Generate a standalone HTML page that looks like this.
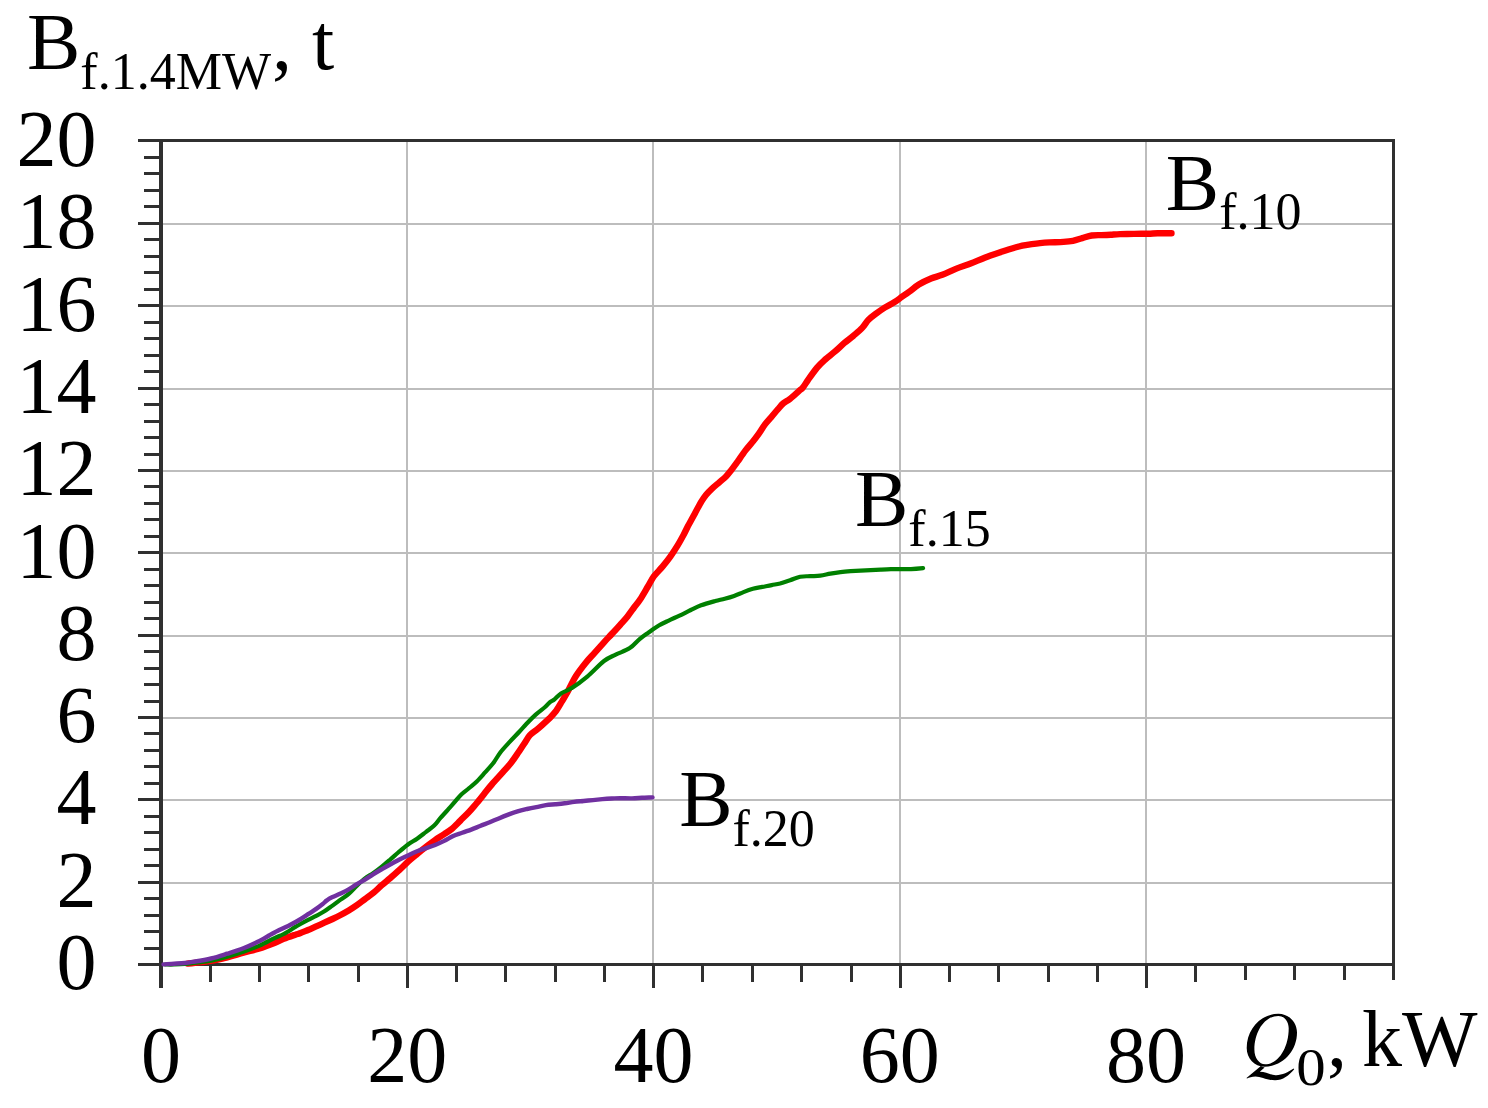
<!DOCTYPE html>
<html><head><meta charset="utf-8"><style>
html,body{margin:0;padding:0;background:#fff;}
body{width:1488px;height:1108px;overflow:hidden;}
svg{display:block;}
text{font-family:"Liberation Serif",serif;font-size:80px;fill:#000;}
</style></head><body>
<svg width="1488" height="1108" viewBox="0 0 1488 1108">
<rect width="1488" height="1108" fill="#fff"/>
<line x1="161" y1="883" x2="1393" y2="883" stroke="#bdbdbd" stroke-width="2"/>
<line x1="161" y1="800" x2="1393" y2="800" stroke="#bdbdbd" stroke-width="2"/>
<line x1="161" y1="718" x2="1393" y2="718" stroke="#bdbdbd" stroke-width="2"/>
<line x1="161" y1="636" x2="1393" y2="636" stroke="#bdbdbd" stroke-width="2"/>
<line x1="161" y1="553" x2="1393" y2="553" stroke="#bdbdbd" stroke-width="2"/>
<line x1="161" y1="471" x2="1393" y2="471" stroke="#bdbdbd" stroke-width="2"/>
<line x1="161" y1="389" x2="1393" y2="389" stroke="#bdbdbd" stroke-width="2"/>
<line x1="161" y1="306" x2="1393" y2="306" stroke="#bdbdbd" stroke-width="2"/>
<line x1="161" y1="224" x2="1393" y2="224" stroke="#bdbdbd" stroke-width="2"/>
<line x1="407" y1="141" x2="407" y2="964" stroke="#bdbdbd" stroke-width="2"/>
<line x1="653" y1="141" x2="653" y2="964" stroke="#bdbdbd" stroke-width="2"/>
<line x1="900" y1="141" x2="900" y2="964" stroke="#bdbdbd" stroke-width="2"/>
<line x1="1146" y1="141" x2="1146" y2="964" stroke="#bdbdbd" stroke-width="2"/>
<line x1="138" y1="140.5" x2="1394.5" y2="140.5" stroke="#303030" stroke-width="3"/>
<line x1="1393.5" y1="139" x2="1393.5" y2="980" stroke="#303030" stroke-width="3"/>
<line x1="138" y1="964.5" x2="1395" y2="964.5" stroke="#303030" stroke-width="3"/>
<line x1="161" y1="139" x2="161" y2="988" stroke="#303030" stroke-width="4"/>
<line x1="138" y1="964.5" x2="160" y2="964.5" stroke="#303030" stroke-width="3"/>
<line x1="144" y1="948.5" x2="160" y2="948.5" stroke="#303030" stroke-width="3"/>
<line x1="144" y1="931.5" x2="160" y2="931.5" stroke="#303030" stroke-width="3"/>
<line x1="144" y1="915.5" x2="160" y2="915.5" stroke="#303030" stroke-width="3"/>
<line x1="144" y1="898.5" x2="160" y2="898.5" stroke="#303030" stroke-width="3"/>
<line x1="138" y1="882.5" x2="160" y2="882.5" stroke="#303030" stroke-width="3"/>
<line x1="144" y1="865.5" x2="160" y2="865.5" stroke="#303030" stroke-width="3"/>
<line x1="144" y1="849.5" x2="160" y2="849.5" stroke="#303030" stroke-width="3"/>
<line x1="144" y1="832.5" x2="160" y2="832.5" stroke="#303030" stroke-width="3"/>
<line x1="144" y1="816.5" x2="160" y2="816.5" stroke="#303030" stroke-width="3"/>
<line x1="138" y1="799.5" x2="160" y2="799.5" stroke="#303030" stroke-width="3"/>
<line x1="144" y1="783.5" x2="160" y2="783.5" stroke="#303030" stroke-width="3"/>
<line x1="144" y1="766.5" x2="160" y2="766.5" stroke="#303030" stroke-width="3"/>
<line x1="144" y1="750.5" x2="160" y2="750.5" stroke="#303030" stroke-width="3"/>
<line x1="144" y1="733.5" x2="160" y2="733.5" stroke="#303030" stroke-width="3"/>
<line x1="138" y1="717.5" x2="160" y2="717.5" stroke="#303030" stroke-width="3"/>
<line x1="144" y1="701.5" x2="160" y2="701.5" stroke="#303030" stroke-width="3"/>
<line x1="144" y1="684.5" x2="160" y2="684.5" stroke="#303030" stroke-width="3"/>
<line x1="144" y1="668.5" x2="160" y2="668.5" stroke="#303030" stroke-width="3"/>
<line x1="144" y1="651.5" x2="160" y2="651.5" stroke="#303030" stroke-width="3"/>
<line x1="138" y1="635.5" x2="160" y2="635.5" stroke="#303030" stroke-width="3"/>
<line x1="144" y1="618.5" x2="160" y2="618.5" stroke="#303030" stroke-width="3"/>
<line x1="144" y1="602.5" x2="160" y2="602.5" stroke="#303030" stroke-width="3"/>
<line x1="144" y1="585.5" x2="160" y2="585.5" stroke="#303030" stroke-width="3"/>
<line x1="144" y1="569.5" x2="160" y2="569.5" stroke="#303030" stroke-width="3"/>
<line x1="138" y1="552.5" x2="160" y2="552.5" stroke="#303030" stroke-width="3"/>
<line x1="144" y1="536.5" x2="160" y2="536.5" stroke="#303030" stroke-width="3"/>
<line x1="144" y1="519.5" x2="160" y2="519.5" stroke="#303030" stroke-width="3"/>
<line x1="144" y1="503.5" x2="160" y2="503.5" stroke="#303030" stroke-width="3"/>
<line x1="144" y1="486.5" x2="160" y2="486.5" stroke="#303030" stroke-width="3"/>
<line x1="138" y1="470.5" x2="160" y2="470.5" stroke="#303030" stroke-width="3"/>
<line x1="144" y1="454.5" x2="160" y2="454.5" stroke="#303030" stroke-width="3"/>
<line x1="144" y1="437.5" x2="160" y2="437.5" stroke="#303030" stroke-width="3"/>
<line x1="144" y1="421.5" x2="160" y2="421.5" stroke="#303030" stroke-width="3"/>
<line x1="144" y1="404.5" x2="160" y2="404.5" stroke="#303030" stroke-width="3"/>
<line x1="138" y1="388.5" x2="160" y2="388.5" stroke="#303030" stroke-width="3"/>
<line x1="144" y1="371.5" x2="160" y2="371.5" stroke="#303030" stroke-width="3"/>
<line x1="144" y1="355.5" x2="160" y2="355.5" stroke="#303030" stroke-width="3"/>
<line x1="144" y1="338.5" x2="160" y2="338.5" stroke="#303030" stroke-width="3"/>
<line x1="144" y1="322.5" x2="160" y2="322.5" stroke="#303030" stroke-width="3"/>
<line x1="138" y1="305.5" x2="160" y2="305.5" stroke="#303030" stroke-width="3"/>
<line x1="144" y1="289.5" x2="160" y2="289.5" stroke="#303030" stroke-width="3"/>
<line x1="144" y1="272.5" x2="160" y2="272.5" stroke="#303030" stroke-width="3"/>
<line x1="144" y1="256.5" x2="160" y2="256.5" stroke="#303030" stroke-width="3"/>
<line x1="144" y1="239.5" x2="160" y2="239.5" stroke="#303030" stroke-width="3"/>
<line x1="138" y1="223.5" x2="160" y2="223.5" stroke="#303030" stroke-width="3"/>
<line x1="144" y1="206.5" x2="160" y2="206.5" stroke="#303030" stroke-width="3"/>
<line x1="144" y1="190.5" x2="160" y2="190.5" stroke="#303030" stroke-width="3"/>
<line x1="144" y1="173.5" x2="160" y2="173.5" stroke="#303030" stroke-width="3"/>
<line x1="144" y1="157.5" x2="160" y2="157.5" stroke="#303030" stroke-width="3"/>
<line x1="138" y1="140.5" x2="160" y2="140.5" stroke="#303030" stroke-width="3"/>
<line x1="210.5" y1="964" x2="210.5" y2="982" stroke="#303030" stroke-width="3"/>
<line x1="259.5" y1="964" x2="259.5" y2="982" stroke="#303030" stroke-width="3"/>
<line x1="308.5" y1="964" x2="308.5" y2="982" stroke="#303030" stroke-width="3"/>
<line x1="358.5" y1="964" x2="358.5" y2="982" stroke="#303030" stroke-width="3"/>
<line x1="407.5" y1="964" x2="407.5" y2="988" stroke="#303030" stroke-width="3"/>
<line x1="456.5" y1="964" x2="456.5" y2="982" stroke="#303030" stroke-width="3"/>
<line x1="505.5" y1="964" x2="505.5" y2="982" stroke="#303030" stroke-width="3"/>
<line x1="555.5" y1="964" x2="555.5" y2="982" stroke="#303030" stroke-width="3"/>
<line x1="604.5" y1="964" x2="604.5" y2="982" stroke="#303030" stroke-width="3"/>
<line x1="653.5" y1="964" x2="653.5" y2="988" stroke="#303030" stroke-width="3"/>
<line x1="702.5" y1="964" x2="702.5" y2="982" stroke="#303030" stroke-width="3"/>
<line x1="752.5" y1="964" x2="752.5" y2="982" stroke="#303030" stroke-width="3"/>
<line x1="801.5" y1="964" x2="801.5" y2="982" stroke="#303030" stroke-width="3"/>
<line x1="851.5" y1="964" x2="851.5" y2="982" stroke="#303030" stroke-width="3"/>
<line x1="900.5" y1="964" x2="900.5" y2="988" stroke="#303030" stroke-width="3"/>
<line x1="949.5" y1="964" x2="949.5" y2="982" stroke="#303030" stroke-width="3"/>
<line x1="998.5" y1="964" x2="998.5" y2="982" stroke="#303030" stroke-width="3"/>
<line x1="1048.5" y1="964" x2="1048.5" y2="982" stroke="#303030" stroke-width="3"/>
<line x1="1097.5" y1="964" x2="1097.5" y2="982" stroke="#303030" stroke-width="3"/>
<line x1="1146.5" y1="964" x2="1146.5" y2="988" stroke="#303030" stroke-width="3"/>
<line x1="1195.5" y1="964" x2="1195.5" y2="982" stroke="#303030" stroke-width="3"/>
<line x1="1245.5" y1="964" x2="1245.5" y2="980" stroke="#303030" stroke-width="3"/>
<line x1="1294.5" y1="964" x2="1294.5" y2="980" stroke="#303030" stroke-width="3"/>
<line x1="1344.5" y1="964" x2="1344.5" y2="980" stroke="#303030" stroke-width="3"/>
<path d="M187.5 963.6 C188.8 963.5 191.1 963.4 195.0 962.9 C198.9 962.4 205.7 961.7 211.1 960.8 C216.5 959.9 221.9 958.6 227.3 957.3 C232.7 955.9 238.0 954.2 243.4 952.7 C248.8 951.2 254.2 950.0 259.5 948.4 C264.8 946.8 271.0 944.4 275.0 942.8 C279.0 941.2 280.3 940.1 283.7 938.8 C287.1 937.4 292.7 935.6 295.4 934.7 C298.1 933.8 297.9 934.1 300.0 933.3 C302.1 932.5 305.4 931.1 308.1 930.0 C310.8 928.9 313.5 927.6 316.2 926.4 C318.9 925.2 321.7 923.9 324.4 922.7 C327.1 921.5 329.8 920.3 332.5 919.0 C335.2 917.7 337.9 916.4 340.6 915.0 C343.3 913.6 346.0 912.1 348.7 910.5 C351.4 908.9 354.2 907.1 356.9 905.2 C359.6 903.3 362.3 901.1 365.0 899.1 C367.7 897.1 370.4 895.3 373.1 893.1 C375.8 890.9 378.5 888.1 381.2 885.7 C383.9 883.3 386.3 881.4 389.4 878.8 C392.4 876.2 396.4 872.8 399.5 869.9 C402.6 867.0 405.1 864.4 408.0 861.7 C410.9 859.1 414.1 856.5 417.1 854.0 C420.1 851.5 423.1 849.1 426.1 846.8 C429.1 844.5 432.1 842.1 435.1 840.0 C438.1 837.9 441.5 836.0 444.2 834.2 C446.9 832.4 448.7 831.5 451.4 829.2 C454.1 826.9 457.5 823.4 460.4 820.6 C463.2 817.8 465.8 815.3 468.5 812.5 C471.2 809.7 473.7 806.6 476.4 803.5 C479.0 800.5 481.6 797.2 484.1 794.0 C486.7 790.8 488.6 788.1 491.8 784.5 C494.9 780.9 499.7 775.8 502.9 772.2 C506.1 768.6 508.6 766.0 511.1 762.8 C513.6 759.6 516.0 755.9 518.1 752.8 C520.2 749.7 522.0 746.9 524.0 744.0 C526.0 741.1 527.5 737.8 529.9 735.2 C532.2 732.7 534.9 731.5 538.1 728.7 C541.3 725.9 546.4 721.2 549.4 718.4 C552.3 715.5 553.7 714.0 555.8 711.3 C557.8 708.6 559.6 705.4 561.6 702.0 C563.7 698.5 565.7 695.0 568.1 690.8 C570.5 686.5 572.9 680.9 575.8 676.3 C578.6 671.7 582.1 667.3 585.2 663.4 C588.3 659.5 591.5 656.3 594.6 652.8 C597.7 649.3 601.1 645.5 604.0 642.3 C606.9 639.1 609.5 636.5 612.2 633.5 C614.9 630.5 617.9 627.5 620.4 624.6 C622.9 621.8 625.3 619.2 627.5 616.4 C629.7 613.6 631.6 610.9 633.7 608.0 C635.8 605.2 637.7 603.2 640.1 599.5 C642.5 595.9 645.9 589.8 648.2 586.0 C650.5 582.1 651.6 579.4 654.0 576.2 C656.4 573.0 659.5 570.2 662.3 566.9 C665.0 563.6 668.0 559.8 670.5 556.3 C673.0 552.8 675.4 549.2 677.5 545.7 C679.6 542.2 681.6 538.5 683.4 535.2 C685.2 531.9 686.4 529.1 688.1 525.8 C689.9 522.5 691.7 519.3 693.9 515.2 C696.1 511.1 699.5 504.6 701.5 501.3 C703.5 498.0 704.0 497.4 705.7 495.3 C707.4 493.2 709.4 491.0 711.8 488.8 C714.1 486.6 717.3 484.1 719.6 482.1 C722.0 480.0 724.0 478.4 726.0 476.4 C728.0 474.4 729.4 472.4 731.4 469.9 C733.4 467.4 735.5 464.4 737.9 461.2 C740.2 457.9 743.0 453.7 745.5 450.4 C748.0 447.1 750.9 443.9 753.1 441.2 C755.3 438.5 756.5 436.9 758.5 434.1 C760.5 431.3 762.8 427.3 765.0 424.4 C767.2 421.5 769.3 419.3 771.5 416.8 C773.7 414.3 776.0 411.4 778.0 409.2 C780.0 406.9 781.4 405.0 783.4 403.3 C785.4 401.6 787.3 401.0 789.9 398.9 C792.5 396.8 796.9 392.8 799.1 390.9 C801.3 389.0 801.4 389.5 802.9 387.6 C804.4 385.7 805.8 383.1 808.1 379.8 C810.5 376.4 814.3 371.0 817.1 367.6 C819.9 364.2 822.2 362.2 825.2 359.5 C828.2 356.8 832.0 354.1 835.1 351.4 C838.2 348.7 841.1 345.8 844.1 343.2 C847.1 340.6 850.2 338.6 853.2 336.0 C856.2 333.4 859.7 330.6 862.2 327.9 C864.8 325.2 866.2 322.1 868.5 319.8 C870.8 317.5 873.0 315.9 875.7 313.9 C878.4 311.9 881.7 309.5 884.7 307.6 C887.7 305.7 891.0 304.3 893.8 302.6 C896.6 300.9 898.8 299.1 901.4 297.2 C904.0 295.4 906.4 293.9 909.2 291.8 C912.1 289.6 915.2 286.8 918.8 284.6 C922.4 282.4 927.1 280.1 931.0 278.5 C934.9 276.9 938.1 276.4 942.3 274.8 C946.5 273.2 951.7 270.5 956.4 268.6 C961.1 266.7 965.9 265.3 970.6 263.5 C975.3 261.7 980.0 259.5 984.7 257.7 C989.4 255.9 994.1 254.3 998.8 252.7 C1003.5 251.1 1009.0 249.4 1012.9 248.2 C1016.8 247.0 1019.2 246.3 1022.3 245.6 C1025.4 244.9 1028.8 244.5 1031.7 244.1 C1034.7 243.7 1037.0 243.4 1040.0 243.1 C1043.0 242.8 1045.5 242.6 1049.4 242.4 C1053.3 242.2 1059.6 242.2 1063.5 241.9 C1067.4 241.6 1069.8 241.4 1072.9 240.8 C1076.0 240.2 1079.2 239.0 1082.3 238.1 C1085.4 237.2 1088.6 236.0 1091.7 235.5 C1094.8 235.0 1097.9 235.2 1101.1 235.1 C1104.2 235.0 1107.4 234.9 1110.6 234.7 C1113.8 234.5 1116.1 234.2 1120.0 234.1 C1123.9 234.0 1129.4 234.0 1134.1 233.9 C1138.8 233.8 1144.3 233.8 1148.2 233.7 C1152.1 233.6 1153.7 233.3 1157.6 233.2 C1161.5 233.1 1169.2 233.3 1171.5 233.3" fill="none" stroke="#ff0000" stroke-width="6.4" stroke-linejoin="round" stroke-linecap="round"/>
<path d="M165.0 964.5 C166.5 964.5 170.7 964.6 174.0 964.5 C177.3 964.4 181.0 964.3 185.0 964.0 C189.0 963.7 193.7 963.0 198.0 962.5 C202.3 962.0 206.2 961.7 211.1 960.7 C216.0 959.7 221.9 958.2 227.3 956.7 C232.7 955.2 238.0 953.6 243.4 951.8 C248.8 949.9 254.2 947.9 259.5 945.6 C264.8 943.3 271.0 939.7 275.0 937.8 C279.0 935.9 280.3 935.8 283.7 934.0 C287.1 932.2 292.7 928.5 295.4 926.9 C298.1 925.3 297.9 925.5 300.0 924.3 C302.1 923.1 305.4 921.3 308.1 919.9 C310.8 918.5 313.5 917.2 316.2 915.8 C318.9 914.4 321.7 913.0 324.4 911.3 C327.1 909.6 329.8 907.5 332.5 905.6 C335.2 903.7 337.9 901.6 340.6 899.6 C343.3 897.6 346.0 896.2 348.7 893.9 C351.4 891.6 354.2 888.3 356.9 885.7 C359.6 883.1 362.3 880.5 365.0 878.4 C367.7 876.3 370.4 875.1 373.1 873.2 C375.8 871.3 378.4 869.3 381.2 867.1 C384.0 864.9 386.9 862.4 389.7 860.0 C392.5 857.6 395.2 855.1 398.2 852.5 C401.3 849.9 404.9 846.8 408.0 844.5 C411.1 842.2 414.1 840.8 417.1 838.7 C420.1 836.6 423.2 834.1 426.1 831.9 C429.0 829.7 431.8 827.9 434.2 825.6 C436.6 823.3 438.2 820.5 440.5 817.9 C442.8 815.3 445.4 812.5 447.8 809.8 C450.2 807.1 452.8 804.3 455.0 801.7 C457.2 799.1 458.9 796.7 461.3 794.4 C463.7 792.1 466.7 790.2 469.2 788.0 C471.8 785.8 474.1 784.1 476.8 781.5 C479.5 778.8 482.5 775.3 485.3 772.2 C488.1 769.1 491.0 766.1 493.5 762.8 C496.0 759.5 497.8 755.7 500.5 752.2 C503.2 748.7 506.8 745.0 509.9 741.6 C513.0 738.2 516.6 734.6 519.3 731.7 C522.0 728.8 523.6 726.9 526.3 724.0 C529.0 721.1 532.6 717.4 535.7 714.6 C538.8 711.8 542.7 709.1 545.1 707.0 C547.5 704.9 548.4 703.4 550.0 702.1 C551.6 700.8 552.7 700.9 554.5 699.4 C556.3 697.9 558.2 695.3 561.0 693.4 C563.9 691.5 567.2 691.0 571.6 688.1 C576.1 685.3 582.2 680.8 587.6 676.3 C593.0 671.8 599.3 664.6 604.0 661.0 C608.7 657.4 611.4 656.8 615.7 654.6 C620.0 652.5 625.8 650.7 629.8 648.1 C633.8 645.5 636.5 641.7 639.6 639.1 C642.7 636.5 645.5 634.7 648.6 632.5 C651.8 630.2 655.5 627.4 658.8 625.5 C662.1 623.6 664.8 622.4 668.2 620.8 C671.7 619.1 675.7 617.4 679.5 615.6 C683.3 613.8 687.2 611.7 690.8 610.0 C694.4 608.3 697.0 606.8 701.1 605.3 C705.2 603.8 711.4 602.1 715.3 601.0 C719.2 599.9 721.6 599.6 724.7 598.7 C727.8 597.9 731.0 597.0 734.1 595.9 C737.2 594.8 740.4 593.3 743.5 592.1 C746.6 590.9 749.8 589.7 752.9 588.8 C756.0 587.9 759.2 587.5 762.3 586.9 C765.4 586.3 768.8 585.7 771.7 585.1 C774.7 584.5 776.9 584.3 780.0 583.5 C783.1 582.6 786.7 581.3 790.1 580.2 C793.5 579.1 796.9 577.4 800.2 576.7 C803.6 576.0 806.9 576.4 810.2 576.2 C813.6 576.0 816.9 576.1 820.3 575.7 C823.7 575.3 827.0 574.2 830.4 573.6 C833.8 573.0 837.1 572.5 840.5 572.1 C843.9 571.7 847.2 571.4 850.6 571.1 C854.0 570.9 857.2 570.8 860.6 570.6 C864.0 570.4 867.3 570.3 870.7 570.1 C874.1 569.9 877.4 569.8 880.8 569.6 C884.2 569.4 887.5 569.2 890.9 569.1 C894.3 569.0 897.6 569.1 901.0 569.1 C904.4 569.1 907.3 569.3 911.0 569.1 C914.7 568.9 921.1 568.3 923.1 568.1" fill="none" stroke="#008000" stroke-width="4.2" stroke-linejoin="round" stroke-linecap="round"/>
<path d="M163.5 964.4 C165.3 964.3 170.5 963.9 174.1 963.7 C177.7 963.5 181.4 963.4 184.9 963.0 C188.4 962.6 190.6 962.2 195.0 961.5 C199.4 960.8 205.7 959.8 211.1 958.5 C216.5 957.2 221.9 955.4 227.3 953.7 C232.7 952.0 238.0 950.4 243.4 948.3 C248.8 946.2 255.2 943.2 259.5 941.1 C263.8 939.0 266.4 937.0 269.0 935.5 C271.6 934.0 271.6 933.9 275.0 932.2 C278.4 930.5 285.3 927.4 289.5 925.3 C293.7 923.2 296.9 921.4 300.0 919.5 C303.1 917.6 305.4 916.0 308.1 914.2 C310.8 912.4 313.8 910.6 316.2 908.9 C318.6 907.2 320.9 905.4 322.7 904.0 C324.5 902.6 325.2 901.5 326.8 900.4 C328.4 899.2 330.2 898.2 332.5 897.1 C334.8 896.0 337.9 894.8 340.6 893.5 C343.3 892.2 346.0 891.0 348.7 889.4 C351.4 887.8 354.2 885.7 356.9 884.1 C359.6 882.5 362.3 881.3 365.0 879.7 C367.7 878.1 370.4 876.1 373.1 874.4 C375.8 872.7 378.4 871.1 381.2 869.5 C384.0 867.9 386.6 866.4 389.7 864.7 C392.8 863.0 396.4 861.1 399.5 859.5 C402.6 858.0 405.1 856.8 408.0 855.4 C410.9 854.0 414.1 852.5 417.1 851.3 C420.1 850.1 423.1 849.1 426.1 848.1 C429.1 847.1 432.1 846.2 435.1 845.0 C438.1 843.8 441.2 842.4 444.2 840.9 C447.2 839.4 450.2 837.4 453.2 836.0 C456.2 834.6 459.2 833.9 462.2 832.8 C465.2 831.7 468.2 830.7 471.2 829.6 C474.2 828.5 477.1 827.2 480.1 826.0 C483.2 824.7 486.6 823.6 489.7 822.3 C492.8 821.0 495.7 819.7 498.8 818.4 C501.9 817.1 505.1 815.8 508.2 814.6 C511.3 813.4 514.5 812.2 517.6 811.3 C520.7 810.4 523.9 809.7 527.0 809.0 C530.1 808.3 533.2 807.7 536.4 807.1 C539.5 806.5 542.8 805.7 545.9 805.2 C549.0 804.7 552.2 804.6 555.3 804.3 C558.4 804.0 561.6 803.7 564.7 803.3 C567.8 802.9 571.0 802.3 574.1 801.9 C577.2 801.5 580.4 801.3 583.5 801.0 C586.6 800.7 589.8 800.4 592.9 800.1 C596.0 799.8 599.2 799.4 602.3 799.1 C605.4 798.8 608.8 798.6 611.7 798.5 C614.7 798.4 616.6 798.2 620.0 798.2 C623.4 798.2 628.3 798.5 632.0 798.4 C635.7 798.3 638.6 798.0 642.0 797.8 C645.4 797.6 650.8 797.5 652.5 797.4" fill="none" stroke="#7030a0" stroke-width="4.4" stroke-linejoin="round" stroke-linecap="round"/>
<path d="M1278.4 1013.7 C1288.7 1013.7 1297 1022.2 1297 1032.6 C1297 1051.4 1282.4 1066.7 1264.3 1066.7 C1254.6 1066.7 1246.7 1058.3 1246.7 1048 C1246.7 1029.1 1260.9 1013.7 1278.4 1013.7 Z M1278.4 1015.9 C1265.2 1015.9 1254.4 1031 1254.4 1049.7 C1254.4 1057.8 1259.2 1064.3 1265.1 1064.3 C1278.1 1064.3 1288.7 1048.2 1288.7 1028.3 C1288.7 1021.5 1284.1 1015.9 1278.4 1015.9 Z M1260.6 1066.2 L1264.6 1067.4 L1259.8 1071.8 C1266 1071.8 1270 1075 1275.5 1075.2 C1282 1075.4 1288 1072.5 1293.6 1068.6 L1294.2 1069.3 C1289 1075.5 1283 1080.3 1275 1080.3 C1267 1080.3 1261 1076.5 1255.5 1076.5 C1252 1076.5 1249 1077.5 1247 1078.6 L1246.5 1078 Z" fill="#000" fill-rule="evenodd"/>
<text x="96.5" y="989.0" text-anchor="end">0</text>
<text x="96.5" y="906.7" text-anchor="end">2</text>
<text x="96.5" y="824.4" text-anchor="end">4</text>
<text x="96.5" y="742.1" text-anchor="end">6</text>
<text x="96.5" y="659.8" text-anchor="end">8</text>
<text x="96.5" y="577.5" text-anchor="end">10</text>
<text x="96.5" y="495.2" text-anchor="end">12</text>
<text x="96.5" y="412.9" text-anchor="end">14</text>
<text x="96.5" y="330.6" text-anchor="end">16</text>
<text x="96.5" y="248.3" text-anchor="end">18</text>
<text x="96.5" y="166.0" text-anchor="end">20</text>
<text x="161.0" y="1082" text-anchor="middle">0</text>
<text x="407.2" y="1082" text-anchor="middle">20</text>
<text x="653.5" y="1082" text-anchor="middle">40</text>
<text x="899.8" y="1082" text-anchor="middle">60</text>
<text x="1146.0" y="1082" text-anchor="middle">80</text>
<text x="27.0" y="69.0">B<tspan font-size="52" dy="19.5">f.1.4MW</tspan></text>
<text x="272" y="69">, t</text>
<text x="1165.8" y="210.2">B<tspan font-size="52" dy="19.1">f.10</tspan></text>
<text x="855.0" y="525.8">B<tspan font-size="52" dy="20.2">f.15</tspan></text>
<text x="679.2" y="825.9">B<tspan font-size="52" dy="20.0">f.20</tspan></text>
<text transform="translate(1296.3 1084.5) scale(1.11 1)" style="font-size:53px">0</text>
<text x="1327" y="1066">,</text>
<text x="1362" y="1066">kW</text>
</svg>
</body></html>
